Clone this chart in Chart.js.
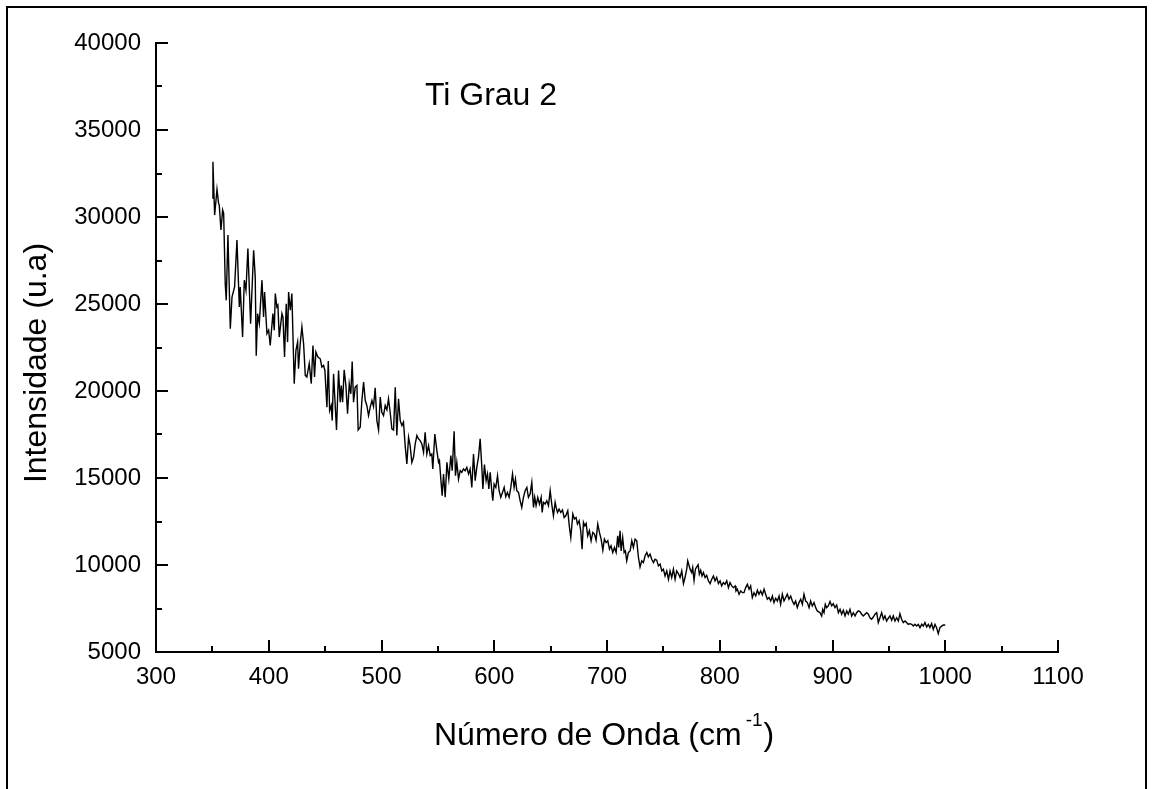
<!DOCTYPE html>
<html>
<head>
<meta charset="utf-8">
<script src="https://cdn.jsdelivr.net/npm/chart.js@4/dist/chart.umd.min.js"></script>
<style>
  html, body { margin: 0; padding: 0; background: #fff; }
  #wrap { width: 1154px; height: 789px; }
</style>
</head>
<body>
<div id="wrap"><canvas id="c" width="1154" height="789"></canvas></div>
<script>
// Raman spectrum of grade 2 titanium: wavenumber (cm-1) and intensity (a.u.)
const wavenumbers = [
  350.2, 350.5, 352.0, 354.1, 355.5, 356.1, 357.6, 359.1, 360.0, 361.4, 362.3, 363.8, 365.9, 367.4, 369.7, 371.8,
  373.9, 374.7, 376.8, 378.3, 379.8, 381.5, 383.9, 386.6, 388.0, 388.9, 390.1, 391.6, 394.0, 395.4, 396.3, 398.4,
  399.9, 401.3, 403.7, 404.9, 405.8, 407.2, 408.1, 409.3, 411.7, 412.6, 414.0, 415.5, 416.7, 417.6, 419.1, 420.5,
  422.6, 424.1, 425.6, 426.4, 427.9, 429.4, 430.9, 432.4, 433.8, 435.9, 437.7, 439.2, 440.6, 441.8, 443.6,
  445.7, 447.1, 448.6, 449.8, 451.6, 452.8, 454.0, 455.4, 456.3, 457.5, 458.4, 460.1, 461.9, 463.4, 464.3, 465.5,
  466.9, 468.4, 469.9, 471.4, 472.8, 474.0, 475.2, 476.7, 478.2, 479.3, 481.1, 482.6, 484.1, 485.6, 487.0, 488.5,
  490.0, 491.5, 492.9, 494.4, 495.9, 497.4, 498.9, 500.3, 501.8, 503.3, 504.8, 506.2, 507.7, 509.2, 510.7, 512.2,
  513.6, 515.1, 516.6, 518.1, 519.5, 521.0, 522.5, 524.0, 525.4, 526.9, 528.4, 529.9, 531.4, 532.8, 534.3, 535.8,
  537.3, 538.7, 540.2, 541.7,
  543.2, 544.6, 545.5, 547.3, 549.1, 550.6, 551.4, 552.6, 553.8, 555.0, 556.5, 558.0, 559.7, 561.5, 562.7, 564.4,
  565.6, 566.8, 568.3, 569.8, 571.2, 572.7, 574.2, 575.7, 577.2, 578.6, 580.1, 581.6, 583.1, 584.5, 586.0, 587.5,
  589.0, 589.9, 591.3, 592.8, 594.0, 595.2, 596.4, 597.8, 598.7, 599.9, 601.4, 602.9, 604.3, 605.8, 607.3, 608.8,
  610.2, 611.7, 613.2, 614.7, 616.2, 617.6, 618.8, 620.0, 621.5, 623.0, 624.4, 625.9, 627.4, 628.9, 630.3, 631.8,
  633.3, 634.8, 635.9, 637.1, 638.6, 640.1, 641.6, 642.5, 643.6, 645.1, 646.6, 648.1,
  649.6, 651.0, 652.5, 654.0, 654.9, 656.1, 657.5, 659.0, 660.5, 662.0, 663.4, 665.2, 666.7, 667.9, 669.7, 671.1,
  672.6, 673.8, 675.3, 676.7, 677.9, 679.1, 680.3, 681.5, 682.9, 684.4, 685.9, 687.4, 688.9, 690.3, 691.8, 693.3,
  694.8, 696.3, 697.7, 699.2, 700.7, 702.2, 703.6, 705.1, 706.6, 708.1, 709.5, 710.4, 711.6, 712.5, 713.9, 715.2,
  716.3, 717.5, 719.0, 720.5, 722.0, 723.4, 724.9, 726.4, 727.9, 729.3, 730.8, 732.3, 733.8, 735.3, 736.7, 738.2,
  739.7, 741.2, 742.6, 744.1, 745.6, 747.1, 748.6, 750.0, 751.5, 753.0, 754.5, 755.9, 757.4, 758.9, 760.4, 761.8,
  763.3, 764.8, 766.3, 767.8, 769.2, 770.7, 771.6,
  773.7, 775.1, 776.0, 777.2, 778.4, 779.6, 780.8, 781.9, 783.1, 784.3, 785.5, 787.0, 788.4, 789.9, 791.4, 792.9,
  794.4, 795.8, 797.3, 798.8, 800.3, 801.7, 803.2, 804.7, 806.2, 807.7, 809.1, 810.6, 812.1, 813.6, 814.4, 815.6,
  817.1, 818.6, 820.1, 821.5, 823.0, 824.5, 826.0, 827.4, 828.9, 830.4, 831.9, 833.4, 834.8, 836.3, 837.8, 839.3,
  840.7, 842.2, 843.7, 845.2, 846.7, 848.1, 849.6, 851.1, 852.6, 854.0, 855.5, 857.0, 858.5, 859.9, 861.4, 862.9,
  864.4, 865.9, 867.3, 868.8, 870.3, 871.8, 873.3, 874.7, 876.2, 877.7, 879.2, 880.6, 882.1, 883.6, 885.1, 886.5,
  888.9, 890.4, 891.3, 892.5, 893.6, 894.8, 896.3, 897.8, 899.3, 900.7, 902.2, 903.7, 905.2, 906.7, 908.1, 909.6,
  911.1, 912.6, 914.0, 915.5, 917.0, 918.5, 920.0, 921.4, 922.9, 924.4, 925.9, 927.3, 928.8, 930.3, 931.8, 933.2,
  934.7, 936.2, 937.7, 939.2, 940.6, 942.1, 943.6, 945.1, 946.5, 948.0, 949.5, 951.0, 952.5, 953.9, 955.4, 956.9,
  958.4, 959.8, 961.3, 962.8, 964.3, 965.7, 967.2, 968.7, 970.2, 971.7, 973.1, 974.6, 976.1, 977.6, 979.1, 980.5,
  982.0, 983.5, 985.0, 986.4, 987.9, 989.4, 990.9, 992.3, 993.8, 995.3, 996.8, 998.3, 1000.0
];
const intensity = [
  31070, 33180, 30110, 31590, 30780, 30690, 29250, 30400, 30210, 26170, 25210, 28960, 23580, 25400, 25980, 28670,
  24830, 25980, 23100, 26370, 25790, 28190, 23870, 28090, 26560, 22020, 24450, 23870, 26370, 24250, 25690, 23300,
  23490, 22620, 24450, 23490, 25600, 24830, 24930, 23100, 24450, 24250, 21950, 25020, 22810, 25690, 24640, 25600,
  20420, 22330, 22810, 21280, 22720, 23680, 22720, 20900, 20800, 21570, 20420, 22620, 20800, 22240, 21950,
  21850, 21370, 21470, 21180, 19070, 21720, 18880, 19170, 18300, 20990, 19840, 17760, 21180, 19360, 20320, 19360,
  21220, 20320, 18690, 20410, 19840, 21700, 19360, 20220, 20320, 17760, 17920, 19450, 20510, 19450, 19170, 18590,
  19070, 19450, 19110, 20180, 18300, 17760, 19650, 18780, 18590, 19170, 18920, 19550, 18780, 17820, 17760, 20220,
  17440, 19550, 18300, 18010, 18210, 16860, 15810, 17340, 16860, 15900, 16190, 16960, 17440, 17250, 17150, 16960,
  16480, 17630, 16380, 16860,
  16290, 16380, 15520, 17530, 16570, 15900, 16000, 14940, 13980, 15230, 13890, 15900, 14940, 16290, 15420, 17690,
  15130, 15900, 14940, 15420, 15330, 15520, 15420, 15610, 15230, 15520, 14460, 16380, 14850, 15610, 16190, 17250,
  15610, 14370, 15770, 14850, 15230, 14370, 15330, 14270, 13690, 14650, 14460, 15130, 14270, 13890, 14170, 14460,
  13930, 14170, 13890, 14460, 15230, 14460, 14940, 14270, 14170, 13690, 13310, 13890, 14270, 14460, 13890, 14080,
  14750, 13310, 13890, 13410, 13890, 13500, 13890, 13020, 13600, 13500, 13690, 13410,
  14270, 13500, 12830, 13600, 13310, 13020, 13210, 13020, 13160, 12730, 12830, 13120, 12160, 11580, 12930, 12640,
  12730, 12350, 12540, 11970, 10910, 12450, 12250, 12390, 11680, 11970, 11390, 11870, 11770, 11430, 12350, 11870,
  11490, 10850, 11490, 11290, 11390, 10910, 11100, 10720, 11010, 10720, 11680, 11010, 11970, 10810, 11580, 10720,
  10810, 10240, 10720, 10810, 11390, 11010, 11490, 11390, 10430, 9890, 10240, 10140, 10530, 10720, 10470, 10620,
  10330, 10140, 10330, 10280, 9950, 10050, 9660, 9760, 9370, 9660, 9180, 9660, 9280, 9760, 9180, 9660,
  9510, 9280, 9660, 8930, 9280, 9760, 10240,
  9760, 9570, 9850, 9120, 9760, 9890, 10010, 9470, 9700, 9370, 9570, 9280, 9410, 9090, 8930, 9180,
  9370, 9090, 9280, 8930, 9090, 8800, 8990, 8890, 9090, 8700, 8990, 8800, 8700, 8800, 8510, 8610,
  8320, 8510, 8410, 8410, 8700, 8890, 8610, 8800, 8130, 8410, 8220, 8550, 8320, 8510, 8280, 8610,
  8320, 8030, 8130, 7930, 8220, 7840, 8090, 7930, 8220, 7740, 8320, 7930, 8130, 8320, 8030, 8220,
  7930, 7740, 7930, 7550, 7840, 8030, 7740, 8320, 7930, 7840, 7550, 7930, 7650, 7840, 7550, 7360,
  7260, 7070, 7450, 7260, 7740, 7550, 7650, 7900, 7650, 7780, 7550, 7700, 7260, 7450, 7170, 7400,
  7070, 7360, 7170, 7450, 7070, 7260, 7070, 7260, 7360, 7320, 7170, 7070, 7170, 7260, 7170, 6970,
  6880, 7010, 7170, 7260, 6690, 6970, 7260, 6880, 7070, 6780, 6940, 7070, 6820, 7070, 6780, 6970,
  6780, 7200, 6880, 6690, 6780, 6690, 6590, 6630, 6590, 6490, 6590, 6490, 6590, 6400, 6590, 6490,
  6690, 6440, 6590, 6400, 6630, 6300, 6590, 6400, 6050, 6400, 6490, 6550, 6550
];

// Axis ticks
const xMajorTicks = [300, 400, 500, 600, 700, 800, 900, 1000, 1100];
const xMinorTicks = [350, 450, 550, 650, 750, 850, 950, 1050];
const yMajorTicks = [5000, 10000, 15000, 20000, 25000, 30000, 35000, 40000];
const yMinorTicks = [7500, 12500, 17500, 22500, 27500, 32500, 37500];

// Texts
const xTitleMain = 'Número de Onda (cm';
const xTitleSup = '-1';
const xTitleEnd = ')';
const yTitle = 'Intensidade (u.a)';
const sampleLabel = 'Ti Grau 2';

const FONT = '"Liberation Sans", Arial, Helvetica, sans-serif';

// Inward ticks, outer frame and the axis / sample labels
const decorations = {
  id: 'decorations',
  afterDraw(chart) {
    const { ctx, scales: { x, y } } = chart;
    const axisX = x.left;
    const axisY = y.bottom;
    ctx.save();
    ctx.strokeStyle = '#000';
    ctx.lineWidth = 2;
    ctx.lineCap = 'butt';
    ctx.beginPath();
    xMajorTicks.forEach(v => {
      const p = Math.round(x.getPixelForValue(v));
      ctx.moveTo(p, axisY); ctx.lineTo(p, axisY - 12);
    });
    xMinorTicks.forEach(v => {
      const p = Math.round(x.getPixelForValue(v));
      ctx.moveTo(p, axisY); ctx.lineTo(p, axisY - 6);
    });
    yMajorTicks.forEach(v => {
      const p = Math.round(y.getPixelForValue(v));
      ctx.moveTo(axisX, p); ctx.lineTo(axisX + 12, p);
    });
    yMinorTicks.forEach(v => {
      const p = Math.round(y.getPixelForValue(v));
      ctx.moveTo(axisX, p); ctx.lineTo(axisX + 6, p);
    });
    ctx.stroke();

    // page frame
    ctx.beginPath();
    ctx.moveTo(7, chart.height);
    ctx.lineTo(7, 7);
    ctx.lineTo(1146, 7);
    ctx.lineTo(1146, chart.height);
    ctx.stroke();

    ctx.fillStyle = '#000';
    ctx.textBaseline = 'alphabetic';

    // x axis title with superscript
    ctx.textAlign = 'left';
    ctx.font = '32px ' + FONT;
    const tx = 434, ty = 745;
    ctx.fillText(xTitleMain, tx, ty);
    const w1 = ctx.measureText(xTitleMain).width;
    ctx.font = '19px ' + FONT;
    ctx.fillText(xTitleSup, tx + w1 + 4, ty - 19);
    const w2 = ctx.measureText(xTitleSup).width;
    ctx.font = '32px ' + FONT;
    ctx.fillText(xTitleEnd, tx + w1 + w2 + 5, ty);

    // y axis title
    ctx.save();
    ctx.translate(46, 363);
    ctx.rotate(-Math.PI / 2);
    ctx.textAlign = 'center';
    ctx.font = '32px ' + FONT;
    ctx.fillText(yTitle, 0, 0);
    ctx.restore();

    // sample label inside the plot
    ctx.textAlign = 'left';
    ctx.font = '32px ' + FONT;
    ctx.fillText(sampleLabel, x.getPixelForValue(538.5), y.getPixelForValue(36450));

    ctx.restore();
  }
};

new Chart(document.getElementById('c'), {
  type: 'line',
  data: {
    datasets: [{
      data: wavenumbers.map((w, i) => ({ x: w, y: intensity[i] })),
      borderColor: '#000',
      borderWidth: 1.4,
      pointRadius: 0,
      fill: false,
      tension: 0
    }]
  },
  options: {
    responsive: false,
    animation: false,
    devicePixelRatio: 1,
    layout: { padding: { left: 0, right: 96, top: 43, bottom: 0 } },
    plugins: { legend: { display: false }, tooltip: { enabled: false } },
    scales: {
      x: {
        type: 'linear',
        min: 300,
        max: 1100,
        afterBuildTicks: s => { s.ticks = xMajorTicks.map(v => ({ value: v })); },
        afterFit: s => { s.height = 137; },
        grid: { display: false, drawTicks: false },
        border: { display: true, color: '#000', width: 2 },
        ticks: {
          color: '#000',
          font: { family: FONT, size: 24 },
          padding: 11,
          maxRotation: 0,
          autoSkip: false,
          callback: v => String(v)
        }
      },
      y: {
        type: 'linear',
        min: 5000,
        max: 40000,
        afterBuildTicks: s => { s.ticks = yMajorTicks.map(v => ({ value: v })); },
        afterFit: s => { s.width = 156; },
        grid: { display: false, drawTicks: false },
        border: { display: true, color: '#000', width: 2 },
        ticks: {
          color: '#000',
          font: { family: FONT, size: 24 },
          padding: 15,
          autoSkip: false,
          callback: v => String(v)
        }
      }
    }
  },
  plugins: [decorations]
});
</script>
</body>
</html>
